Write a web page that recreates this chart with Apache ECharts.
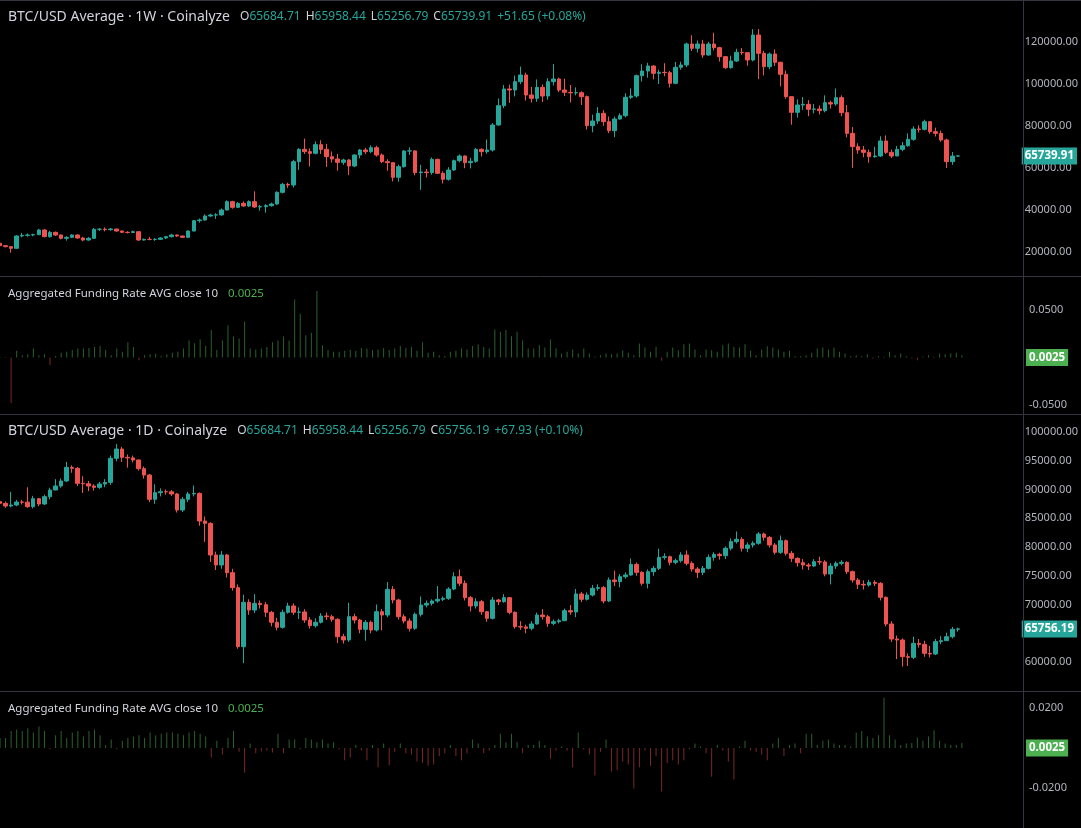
<!DOCTYPE html>
<html lang="en">
<head>
<meta charset="UTF-8">
<title>BTC/USD Average - Coinalyze</title>
<script src="https://cdn.jsdelivr.net/npm/echarts@6/dist/echarts.min.js"></script>
<style>
    html, body { margin: 0; padding: 0; background: #000; }
    #main { width: 1081px; height: 828px; }
</style>
</head>
<body>
<div id="main"></div>
<script>
// ---- weekly candles (open = previous close) ----
var weekOpen0 = 24140;
var weekClose = [
    23000, 22540, 21750, 27620, 27940, 28100, 28250, 30480, 27300, 29370,
    28100, 26510, 26980, 28100, 26670, 25710, 26510, 30790, 30850, 30630,
    30950, 30000, 29370, 29300, 29690, 25710, 26030, 26000, 26030, 26670,
    27300, 28100, 27620, 26980, 30000, 34920, 35240, 37140, 37620, 37650,
    40000, 43970, 41270, 43170, 41900, 43970, 41430, 41590, 42060, 42860,
    48410, 52220, 51900, 63020, 68890, 67780, 66980, 71110, 68890, 65400,
    64290, 62700, 63810, 60950, 66190, 68570, 67780, 69680, 66190, 63020,
    62540, 55560, 60640, 68100, 68150, 57780, 58100, 57780, 64130, 57460,
    54600, 59050, 63490, 65720, 62540, 63180, 68890, 67780, 68570, 80480,
    89680, 97620, 97140, 101110, 104290, 94760, 93180, 98410, 94290, 101110,
    102380, 97140, 96030, 95800, 95850, 93970, 80160, 82380, 86030, 82060,
    77780, 83330, 84920, 93650, 94290, 103970, 106190, 108570, 105080, 105560,
    105400, 100320, 107940, 109050, 119050, 116990, 119050, 113810, 119050, 117300,
    113020, 107780, 110950, 115080, 114920, 111430, 123330, 114600, 108250, 114290,
    110320, 104600, 93970, 86510, 90000, 90320, 87940, 88100, 87300, 91110,
    90480, 93490, 86350, 76510, 70160, 68570, 67460, 65400, 65720, 72860,
    67460, 65720, 68890, 70630, 73650, 78570, 78400, 82060, 77300, 76510,
    73330, 63020, 65688.26, 65739.91
];
var weekHigh = [
    24400, 23300, 22700, 28000, 29100, 28800, 28700, 31000, 30900, 30000,
    29700, 28300, 27500, 28500, 28400, 27200, 27100, 31400, 31300, 31700,
    31400, 31000, 30200, 29900, 30200, 29700, 26400, 27200, 26600, 27000,
    27500, 28600, 28300, 27800, 30300, 35200, 35900, 37900, 38200, 38500,
    40700, 44600, 44400, 43800, 44100, 44600, 48900, 42400, 42800, 43500,
    48900, 52900, 53000, 63900, 69500, 74000, 69300, 72700, 73200, 71500,
    67900, 66700, 64400, 64200, 66500, 69000, 69600, 70800, 70600, 66900,
    64200, 62700, 61600, 68500, 69800, 68300, 61500, 59500, 65000, 64400,
    58400, 60400, 64000, 66500, 66000, 64900, 69500, 69400, 73600, 81400,
    93100, 99500, 99700, 104000, 108300, 105400, 98600, 102200, 99800, 102800,
    109500, 103000, 102500, 99500, 98400, 96500, 94500, 85400, 89000, 87500,
    84500, 84500, 86000, 95600, 97900, 104500, 109400, 110100, 108900, 106800,
    109900, 106200, 110500, 110600, 119700, 123200, 120700, 121000, 120100, 124400,
    117700, 113300, 113500, 116800, 117100, 115000, 126100, 126200, 115800, 115000,
    116500, 110600, 106400, 94000, 92700, 93800, 92300, 90500, 89800, 94600,
    92100, 97900, 94600, 90000, 79500, 71800, 70500, 68800, 70100, 75100,
    75500, 68800, 70500, 72400, 76500, 79900, 80300, 83000, 82300, 79200,
    77800, 74000, 67600, 65958.44
];
var weekLow = [
    22700, 22200, 19700, 21500, 27000, 27300, 27500, 28100, 27000, 26900,
    27700, 26000, 25400, 26600, 26300, 25100, 25400, 26300, 30000, 29800,
    30100, 29700, 29100, 28800, 29000, 25300, 25400, 25600, 25300, 25700,
    26200, 26900, 27200, 26700, 26800, 29800, 34000, 34900, 36800, 35800,
    37300, 39800, 40600, 41000, 41500, 41400, 41000, 39700, 38700, 41600,
    42500, 47900, 50500, 50700, 59100, 66700, 60700, 66500, 66700, 60500,
    62600, 58700, 61500, 56600, 60400, 64600, 66600, 67100, 65400, 62300,
    58700, 53600, 53500, 60200, 66200, 56500, 49600, 55500, 56800, 57100,
    52600, 54000, 58600, 62700, 59900, 59800, 62500, 65500, 66800, 67800,
    80200, 88500, 91000, 94100, 99900, 92100, 91200, 91500, 91400, 92500,
    99300, 96100, 94300, 91200, 94600, 90000, 78300, 77000, 81000, 80100,
    76600, 74700, 83000, 84100, 92800, 93500, 101200, 103000, 102200, 100000,
    103700, 98300, 99900, 106800, 108000, 115700, 115000, 112500, 113500, 116000,
    110700, 107200, 107300, 110500, 113900, 108700, 110800, 102300, 104100, 107000,
    108600, 98900, 93000, 80600, 84000, 87700, 84700, 86000, 85500, 86500,
    88300, 89700, 84600, 74600, 60100, 66800, 65100, 62500, 64900, 65300,
    66700, 64800, 65700, 68000, 70100, 73000, 76900, 77900, 76300, 75000,
    72500, 60000, 61500, 65256.79
];
// weekly aggregated funding rate
var weekFunding = [
    0.0005, -0.0005, -0.048, 0.007, 0.0025, 0.0035, 0.0095, 0.0025, 0.0035, -0.008,
    0.0015, 0.005, 0.006, 0.008, 0.0095, 0.0095, 0.010, 0.011, 0.012, 0.008,
    0.0025, 0.0095, 0.006, 0.016, 0.011, -0.003, 0.0025, 0.0035, 0.004, 0.0015,
    0.0035, 0.005, 0.006, 0.0095, 0.018, 0.015, 0.019, 0.012, 0.029, 0.008,
    0.018, 0.034, 0.022, 0.020, 0.038, 0.0095, 0.0085, 0.0095, 0.011, 0.016,
    0.018, 0.022, 0.018, 0.061, 0.046, 0.0235, 0.026, 0.070, 0.013, 0.008,
    0.006, 0.006, 0.007, 0.008, 0.007, 0.010, 0.0095, 0.008, 0.0085, 0.010,
    0.008, 0.0095, 0.012, 0.010, 0.011, 0.007, 0.016, 0.005, 0.006, 0.0025,
    0.0015, 0.006, 0.007, 0.0095, 0.0085, 0.012, 0.014, 0.011, 0.0095, 0.0295,
    0.027, 0.029, 0.0225, 0.027, 0.0182, 0.0095, 0.0095, 0.0130, 0.0105, 0.0189,
    0.0095, 0.0042, 0.0060, 0.0084, 0.0042, 0.0095, 0.0042, 0.0007, 0.0025, 0.0042,
    0.0035, 0.0042, 0.0077, 0.0049, 0.0025, 0.0147, 0.0105, 0.0060, 0.0112, -0.0035,
    0.0060, 0.0105, 0.0077, 0.0140, 0.0147, 0.0084, 0.0025, 0.0084, 0.0077, 0.0060,
    0.0130, 0.0147, 0.0112, 0.0105, 0.0140, 0.0070, 0.0025, 0.0084, 0.0119, 0.0105,
    0.0084, 0.0060, 0.0070, 0.0014, 0.0014, 0.0025, 0.0049, 0.0095, 0.0105, 0.0084,
    0.0105, 0.0060, 0.0042, 0.0014, 0.0025, 0.0014, 0.0035, -0.0011, 0.0014, 0.0007,
    0.0060, 0.0025, 0.0042, 0.0014, -0.0011, -0.0028, 0.0007, 0.0025, 0.0007, 0.0042,
    0.0035, 0.0042, 0.0049, 0.0025
];

// ---- daily candles (open = previous close) ----
var dayOpen0 = 87900;
var dayClose = [
    87590, 87130, 87300, 87820, 87800, 87010, 88400, 87480, 88750, 89910,
    90610, 91480, 93850, 93680, 91070, 91000, 90610, 90370, 90950, 91240,
    95420, 97040, 95590, 95500, 95130, 93620, 92520, 88290, 89450, 89620,
    89600, 89220, 86430, 88290, 89220, 89320, 84520, 84110, 78610, 76870,
    78610, 75530, 72930, 62670, 70380, 69040, 70200, 69970, 68640, 66900,
    66030, 68640, 69740, 68640, 68700, 67300, 66320, 66900, 68000, 67880,
    67420, 64400, 63830, 67880, 67300, 65680, 66900, 65560, 68750, 68170,
    72640, 70780, 67880, 67130, 65860, 68290, 69910, 70200, 70610, 70900,
    71070, 72690, 74840, 73680, 71190, 69740, 70490, 68750, 67590, 70780,
    70490, 71190, 68640, 66140, 66100, 65860, 66610, 68170, 67880, 66720,
    67010, 67190, 68930, 68700, 71830, 70900, 71650, 72810, 72930, 70610,
    74260, 73970, 74840, 75130, 76980, 75590, 73680, 75710, 76290, 78200,
    78320, 77330, 77620, 78610, 77160, 76170, 75590, 76290, 78200, 78720,
    78490, 79770, 80930, 81330, 79770, 80350, 80640, 82260, 81680, 80350,
    79070, 81100, 78900, 78030, 77270, 76870, 76690, 77450, 77400, 75300,
    76690, 77160, 77330, 75710, 74260, 73510, 73390, 73850, 73680, 71250,
    66610, 64000, 63830, 60930, 60810, 63250, 63070, 61510, 61390, 63540,
    63710, 64400, 65688.26, 65756.19
];
var dayHigh = [
    88300, 87900, 89600, 88200, 88200, 90400, 88900, 88500, 89100, 90300,
    91800, 91900, 94800, 94200, 93900, 92300, 91500, 90900, 91300, 91800,
    95900, 97900, 97400, 96100, 95900, 95200, 94000, 92700, 90900, 90200,
    90000, 89900, 89400, 88700, 89600, 90700, 89500, 85300, 84300, 79200,
    79300, 78800, 76200, 73500, 71700, 70900, 71800, 70700, 70400, 68900,
    67700, 69100, 70300, 70200, 69500, 69200, 67800, 67600, 68500, 68600,
    68200, 67600, 64900, 70300, 68400, 67500, 67300, 67200, 70000, 69200,
    73900, 73200, 71000, 68300, 67600, 68600, 71400, 70700, 70900, 73200,
    71400, 73000, 75600, 76100, 74200, 71500, 71100, 70800, 68900, 71300,
    71000, 71800, 71300, 68800, 67100, 66500, 67100, 68600, 69200, 68200,
    67400, 67500, 69300, 69900, 72700, 72200, 72100, 73400, 73500, 73200,
    74700, 75900, 75300, 75600, 78000, 77300, 75800, 76100, 76700, 79700,
    78900, 78500, 78000, 79100, 79400, 77500, 76500, 76700, 78700, 79100,
    79000, 80100, 81500, 82700, 81700, 80800, 81000, 82600, 82500, 81900,
    80700, 82000, 81300, 79300, 78200, 77900, 77200, 77900, 78300, 77700,
    77200, 77500, 77700, 77500, 75900, 74600, 74200, 74300, 74200, 73900,
    71400, 67100, 64600, 64100, 61500, 64400, 64000, 63700, 62800, 64000,
    64500, 65100, 66100, 65958.44
];
var dayLow = [
    87200, 86800, 86900, 87100, 87400, 86800, 86700, 87100, 87300, 88300,
    89900, 90300, 91300, 92900, 90600, 89400, 89700, 89800, 90100, 90400,
    90800, 94900, 94800, 93800, 94700, 93300, 91900, 87800, 87500, 88800,
    89100, 88900, 86000, 86100, 87800, 88800, 83700, 80900, 77400, 76000,
    76200, 74700, 72400, 62300, 59800, 68200, 68500, 69300, 67800, 66200,
    65500, 65800, 68400, 68200, 67500, 66800, 65800, 66000, 66700, 67300,
    67000, 63300, 63200, 63500, 66700, 65000, 63700, 65000, 65300, 65500,
    67800, 70200, 67400, 66700, 65300, 65600, 67900, 69500, 69800, 70300,
    70600, 70800, 72500, 73200, 70700, 68800, 69300, 68200, 67000, 67400,
    69900, 70300, 68300, 65800, 65600, 65000, 65500, 66500, 67400, 66100,
    66400, 66700, 67100, 68200, 67800, 70400, 70700, 71400, 72400, 70200,
    70400, 73200, 73000, 74500, 75000, 75000, 73300, 72800, 75000, 76000,
    77800, 76800, 77000, 77300, 76800, 75700, 74600, 75100, 76100, 77600,
    77800, 77900, 79400, 80600, 79200, 79100, 79900, 80400, 81100, 79900,
    78700, 78800, 78500, 77400, 76600, 76100, 76000, 76500, 76900, 74900,
    73500, 76200, 76800, 75300, 73800, 72700, 72600, 73100, 73200, 70700,
    66200, 63500, 60500, 59200, 59300, 60500, 62500, 60900, 60800, 61200,
    63100, 63700, 64100, 65256.79
];
// daily aggregated funding rate
var dayFunding = [
    0.0050, 0.0050, 0.0085, 0.0092, 0.0085, 0.0099, 0.0078, 0.0108, 0.0085, -0.0005,
    0.0064, 0.0085, 0.0050, 0.0078, 0.0085, 0.0057, 0.0085, 0.0092, 0.0064, 0.0015,
    0.0043, -0.0005, 0.0036, 0.0050, 0.0057, 0.0064, 0.0050, 0.0078, 0.0064, 0.0071,
    0.0078, 0.0078, 0.0071, 0.0064, 0.0078, 0.0085, 0.0071, 0.0057, -0.0047, 0.0036,
    -0.0033, 0.0050, 0.0085, -0.0019, -0.0124, 0.0022, -0.0026, -0.0017, -0.0013, -0.0022,
    0.0071, -0.0026, 0.0043, 0.0043, -0.0006, 0.0050, 0.0043, 0.0029, 0.0043, 0.0022,
    0.0029, -0.0006, -0.0061, -0.0047, 0.0015, -0.0013, -0.0061, 0.0015, -0.0096, 0.0022,
    -0.0086, -0.0019, 0.0022, -0.0026, -0.0033, -0.0068, -0.0075, -0.0089, -0.0082, -0.0040,
    -0.0026, 0.0015, -0.0040, -0.0061, -0.0026, 0.0043, 0.0022, -0.0026, -0.0013, 0.0015,
    0.0071, 0.0029, 0.0071, 0.0029, -0.0026, 0.0015, 0.0015, 0.0036, 0.0015, -0.0054,
    -0.0013, 0.0008, -0.0013, -0.0096, 0.0078, -0.0006, -0.0033, -0.0138, -0.0019, 0.0043,
    -0.0117, -0.0110, -0.0068, -0.0082, -0.0203, -0.0096, -0.0013, -0.0089, -0.0040, -0.0217,
    -0.0075, -0.0061, -0.0082, -0.0061, -0.0006, 0.0022, 0.0008, -0.0026, -0.0144, 0.0015,
    -0.0013, -0.0068, -0.0158, 0.0008, 0.0036, -0.0013, -0.0019, -0.0033, -0.0061, 0.0022,
    0.0050, -0.0040, 0.0015, 0.0022, -0.0026, 0.0071, 0.0071, 0.0015, 0.0036, 0.0043,
    0.0022, 0.0015, 0.0015, 0.0008, 0.0078, 0.0085, 0.0057, 0.0050, 0.0064, 0.0251,
    0.0064, 0.0043, 0.0015, 0.0022, 0.0025, 0.0053, 0.0036, 0.0057, 0.0089, 0.0036,
    0.0022, 0.0015, 0.0015, 0.0025
];

// header texts
var weekLegend = ['65684.71', '65958.44', '65256.79', '65739.91', '+51.65 (+0.08%)'];
var dayLegend = ['65684.71', '65958.44', '65256.79', '65756.19', '+67.93 (+0.10%)'];

// total bar slots on the time axis (incl. empty space to the right)
var slotCount = 185;

var UP = '#26a69a', DOWN = '#ef5350';
var TXT = '#d1d4dc', AXIS_TXT = '#b2b5be', SEP = '#33363f';
var FONT = 'Noto Sans';

function toCandles(open0, close, high, low) {
    return close.map(function (c, i) {
        var o = i === 0 ? open0 : close[i - 1];
        return [o, c, Math.min(low[i], o, c), Math.max(high[i], o, c)];
    });
}

function header(name, v) {
    return '{t|' + name + '}  {k|O}{v|' + v[0] + '} {k|H}{v|' + v[1] + '} {k|L}{v|' + v[2] +
        '} {k|C}{v|' + v[3] + '} {v|' + v[4] + '}';
}

var slots = [];
for (var s = 0; s < slotCount; s++) slots.push(s);

var grids = [
    {left: 0, right: 58, top: 0, height: 294},
    {left: 0, right: 58, top: 262.5, height: 190},
    {left: 0, right: 58, top: 403.25, height: 287.5},
    {left: 0, right: 58, top: 668, height: 192}
];

function xAx(i) {
    return {type: 'category', gridIndex: i, data: slots, boundaryGap: false, show: false};
}

function yAx(i, min, max, step, digits) {
    return {
        type: 'value', gridIndex: i, position: 'right', min: min, max: max, interval: step,
        axisLine: {show: false}, axisTick: {show: false}, splitLine: {show: false},
        axisLabel: {
            color: AXIS_TXT, fontSize: 11, fontFamily: FONT, margin: 6,
            showMinLabel: false, showMaxLabel: false,
            formatter: function (v) { return v.toFixed(digits); }
        }
    };
}

function lastLabel(value, bg, digits) {
    return {
        silent: true, symbol: 'none', animation: false,
        lineStyle: {color: 'rgba(0,0,0,0)', width: 0},
        label: {
            show: true, position: 'end', distance: 3,
            formatter: function () { return value.toFixed(digits); },
            color: '#fff', backgroundColor: bg, fontFamily: FONT,
            fontSize: 11.5, fontWeight: 'bold', padding: [3, 3, 2, 3]
        },
        data: [{yAxis: value}]
    };
}

function candleSeries(idx, data, last) {
    return {
        type: 'candlestick', xAxisIndex: idx, yAxisIndex: idx, data: data, barWidth: 4,
        itemStyle: {color: UP, color0: DOWN, borderColor: UP, borderColor0: DOWN, borderWidth: 1},
        markLine: lastLabel(last, UP, 2)
    };
}

function fundingSeries(idx, data) {
    return {
        type: 'bar', xAxisIndex: idx, yAxisIndex: idx, data: data, barWidth: 1,
        itemStyle: {
            color: function (p) { return p.value >= 0 ? 'rgba(76,175,80,0.55)' : 'rgba(239,83,80,0.5)'; }
        },
        markLine: lastLabel(data[data.length - 1], '#4caf50', 4)
    };
}

var richText = {
    t: {color: TXT, fontSize: 14, fontFamily: FONT, fontWeight: 'normal'},
    k: {color: TXT, fontSize: 12, fontFamily: FONT, fontWeight: 'normal'},
    v: {color: UP, fontSize: 12, fontFamily: FONT, fontWeight: 'normal'},
    g: {color: '#4caf50', fontSize: 11.5, fontFamily: FONT, fontWeight: 'normal'},
    f: {color: TXT, fontSize: 11.5, fontFamily: FONT, fontWeight: 'normal'}
};

function fundLegend(v) {
    return '{f|Aggregated Funding Rate AVG close 10}  {g|' + v.toFixed(4) + '}';
}

var myChart = echarts.init(document.getElementById('main'));
var option = {
    backgroundColor: '#000',
    animation: false,
    title: [
        {left: 8, top: 8, padding: 0, text: header('BTC/USD Average · 1W · Coinalyze', weekLegend), textStyle: {rich: richText}},
        {left: 8, top: 285, padding: 0, text: fundLegend(weekFunding[weekFunding.length - 1]), textStyle: {rich: richText}},
        {left: 8, top: 422, padding: 0, text: header('BTC/USD Average · 1D · Coinalyze', dayLegend), textStyle: {rich: richText}},
        {left: 8, top: 700, padding: 0, text: fundLegend(dayFunding[dayFunding.length - 1]), textStyle: {rich: richText}}
    ],
    grid: grids,
    xAxis: [xAx(0), xAx(1), xAx(2), xAx(3)],
    yAxis: [
        yAx(0, 0, 140000, 20000, 2),
        yAx(1, -0.1, 0.1, 0.05, 4),
        yAx(2, 55000, 105000, 5000, 2),
        yAx(3, -0.04, 0.04, 0.02, 4)
    ],
    series: [
        candleSeries(0, toCandles(weekOpen0, weekClose, weekHigh, weekLow), weekClose[weekClose.length - 1]),
        fundingSeries(1, weekFunding),
        candleSeries(2, toCandles(dayOpen0, dayClose, dayHigh, dayLow), dayClose[dayClose.length - 1]),
        fundingSeries(3, dayFunding)
    ],
    graphic: [
        {type: 'line', silent: true, z: 100, shape: {x1: 0, y1: 0.5, x2: 1081, y2: 0.5}, style: {stroke: SEP, lineWidth: 1}},
        {type: 'line', silent: true, z: 100, shape: {x1: 0, y1: 276.5, x2: 1081, y2: 276.5}, style: {stroke: SEP, lineWidth: 1}},
        {type: 'line', silent: true, z: 100, shape: {x1: 0, y1: 414.5, x2: 1081, y2: 414.5}, style: {stroke: SEP, lineWidth: 1}},
        {type: 'line', silent: true, z: 100, shape: {x1: 0, y1: 691.5, x2: 1081, y2: 691.5}, style: {stroke: SEP, lineWidth: 1}},
        {type: 'line', silent: true, z: 100, shape: {x1: 1023.5, y1: 0, x2: 1023.5, y2: 828}, style: {stroke: SEP, lineWidth: 1}}
    ]
};
myChart.setOption(option);
</script>
</body>
</html>
